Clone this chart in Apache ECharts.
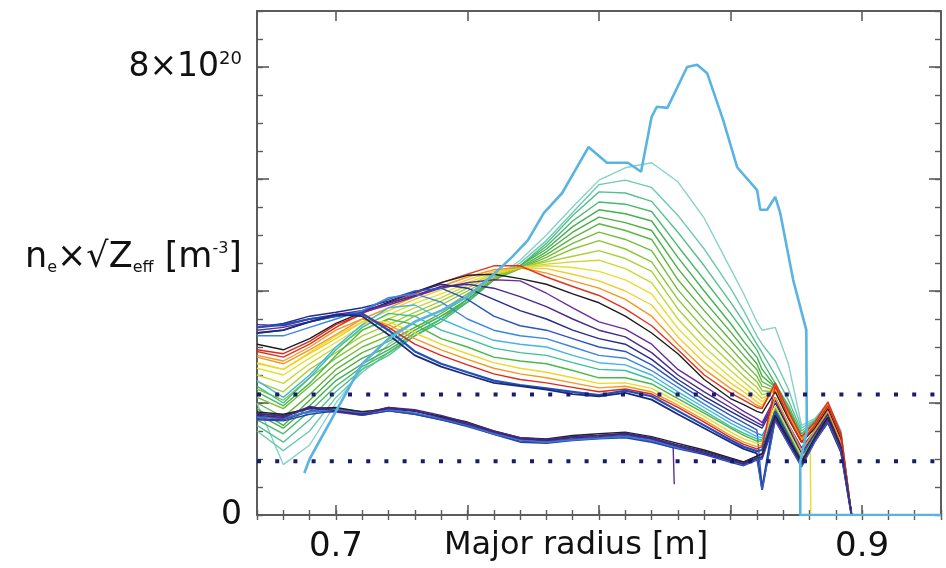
<!DOCTYPE html>
<html>
<head>
<meta charset="utf-8">
<script src="https://cdn.jsdelivr.net/npm/echarts@6/dist/echarts.min.js"></script>
<style>
  html, body { margin: 0; padding: 0; background: #ffffff; }
  #chart { width: 946px; height: 568px; }
</style>
</head>
<body>
<div id="chart"></div>
<script>
// Major radius sample positions [m]
const radius = [0.67,0.68,0.69,0.70,0.71,0.72,0.73,0.74,0.75,0.76,0.77,0.78,0.79,0.80,0.81,0.82,0.83,0.84,0.85,0.855,0.86,0.862,0.867,0.872,0.877,0.882,0.887,0.892,0.896];

// Profiles of n_e * sqrt(Z_eff), in units of 1e20 m^-3, sampled on `radius`.
// Late profiles with the hump moving outward (teal -> green -> yellow -> red -> black)
const late0  = [2.0,0.9,1.25,2.0,2.6,3.05,3.35,3.55,3.8,4.2,4.55,5.0,5.5,5.98,6.2,6.29,5.95,5.3,4.4,3.95,3.45,3.3,3.35,2.7,1.6,1.72,2.0,1.5,0];
const late1  = [1.5,1.15,1.5,2.1,2.55,2.9,3.25,3.5,3.8,4.2,4.5,4.9,5.4,5.9,5.98,5.85,5.35,4.75,4.05,3.65,3.2,3.05,2.75,2.25,1.55,1.7,2.0,1.48,0];
const late2  = [1.6,1.3,1.7,2.2,2.6,2.85,3.2,3.5,3.8,4.2,4.45,4.85,5.35,5.77,5.75,5.6,5.05,4.45,3.8,3.45,3.05,2.9,2.5,2.05,1.5,1.68,1.98,1.45,0];
const late3  = [1.7,1.45,1.85,2.3,2.65,2.9,3.2,3.45,3.8,4.2,4.45,4.8,5.25,5.59,5.55,5.42,4.8,4.2,3.6,3.28,2.95,2.75,2.35,1.95,1.45,1.66,1.96,1.44,0];
const late4  = [1.8,1.55,1.95,2.4,2.7,2.95,3.25,3.5,3.85,4.2,4.45,4.75,5.15,5.45,5.38,5.25,4.6,4.0,3.42,3.1,2.82,2.6,2.3,1.9,1.4,1.64,1.95,1.42,0];
const late5  = [1.9,1.6,2.05,2.5,2.8,3.0,3.3,3.55,3.85,4.2,4.42,4.7,5.05,5.32,5.22,5.08,4.4,3.82,3.27,2.98,2.7,2.48,2.28,1.85,1.38,1.62,1.94,1.4,0];
const late6  = [2.0,1.75,2.15,2.6,2.9,3.1,3.35,3.6,3.9,4.2,4.4,4.65,4.95,5.2,5.08,4.92,4.2,3.65,3.12,2.85,2.6,2.38,2.25,1.8,1.35,1.6,1.92,1.38,0];
const late7  = [2.1,1.9,2.3,2.7,3.0,3.2,3.45,3.65,3.95,4.22,4.4,4.6,4.85,5.05,4.92,4.72,4.02,3.48,2.98,2.72,2.48,2.3,2.22,1.78,1.33,1.58,1.9,1.36,0];
const late8  = [2.25,2.05,2.45,2.8,3.1,3.3,3.55,3.75,4.0,4.25,4.4,4.55,4.75,4.9,4.75,4.52,3.85,3.32,2.84,2.6,2.38,2.22,2.2,1.75,1.3,1.56,1.88,1.34,0];
const late9  = [2.38,2.2,2.6,2.9,3.2,3.4,3.62,3.82,4.05,4.28,4.42,4.52,4.62,4.72,4.58,4.35,3.68,3.16,2.71,2.48,2.28,2.15,2.2,1.74,1.3,1.55,1.88,1.34,0];
const late10 = [2.5,2.35,2.7,3.0,3.3,3.5,3.7,3.88,4.1,4.3,4.42,4.48,4.52,4.55,4.4,4.15,3.5,3.0,2.58,2.38,2.18,2.08,2.22,1.75,1.32,1.56,1.9,1.36,0];
const late11 = [2.62,2.5,2.8,3.08,3.38,3.58,3.78,3.95,4.15,4.32,4.42,4.45,4.42,4.35,4.2,3.95,3.33,2.86,2.46,2.28,2.1,2.02,2.26,1.78,1.3,1.58,1.92,1.38,0];
const late12 = [2.72,2.6,2.88,3.15,3.45,3.65,3.85,4.02,4.2,4.35,4.42,4.4,4.3,4.18,4.0,3.75,3.18,2.72,2.36,2.2,2.02,1.96,2.28,1.8,1.32,1.6,1.95,1.4,0];
const late13 = [2.82,2.7,2.95,3.22,3.5,3.7,3.9,4.08,4.25,4.38,4.42,4.32,4.18,4.05,3.85,3.55,3.05,2.6,2.26,2.12,1.96,1.92,2.3,1.82,1.35,1.62,1.98,1.42,0];
const late14 = [2.92,2.82,3.05,3.35,3.6,3.78,3.95,4.15,4.3,4.45,4.45,4.25,4.08,3.92,3.68,3.38,2.95,2.5,2.18,2.05,1.92,1.9,2.36,1.85,1.4,1.65,2.02,1.45,0];
const late15 = [3.05,2.95,3.15,3.42,3.62,3.8,3.98,4.15,4.28,4.3,4.22,4.12,3.95,3.79,3.55,3.25,2.88,2.42,2.08,1.97,1.85,1.82,2.2,1.72,1.3,1.55,1.9,1.35,0];

// Intermediate profiles, hump near 0.71-0.77 m
const mid0  = [3.3,3.35,3.45,3.55,3.62,3.75,3.9,4.05,4.15,4.2,4.18,3.96,3.7,3.45,3.32,3.05,2.6,2.3,2.0,1.85,1.72,1.65,2.1,1.62,1.2,1.5,1.85,1.3,0];
const mid1  = [3.4,3.38,3.5,3.58,3.65,3.78,3.92,4.08,4.12,4.05,3.9,3.72,3.5,3.3,3.18,2.9,2.5,2.2,1.92,1.78,1.65,1.6,2.05,1.58,1.15,1.48,1.82,1.28,0];
const mid2  = [3.35,3.42,3.55,3.62,3.7,3.82,3.98,4.12,4.05,3.85,3.65,3.5,3.3,3.15,3.05,2.78,2.42,2.12,1.85,1.72,1.6,1.55,2.0,1.55,1.1,1.45,1.8,1.25,0];
const mid3  = [3.25,3.3,3.45,3.55,3.65,3.85,4.0,4.05,3.85,3.55,3.38,3.3,3.15,3.0,2.92,2.68,2.35,2.05,1.78,1.65,1.52,0.5,1.9,1.5,1.05,1.42,1.75,1.22,0];
const mid4  = [3.2,3.2,3.35,3.5,3.65,3.88,3.95,3.8,3.5,3.3,3.2,3.15,3.0,2.85,2.8,2.58,2.28,1.98,1.7,1.58,1.46,1.42,1.85,1.45,1.02,1.4,1.72,1.2,0];
const mid5  = [2.4,2.1,2.5,3.0,3.4,3.7,3.75,3.5,3.3,3.12,3.05,3.0,2.85,2.72,2.68,2.5,2.2,1.92,1.64,1.52,1.4,1.38,1.8,1.42,1.0,1.38,1.7,1.18,0];
const mid6  = [2.3,2.0,2.45,2.95,3.35,3.6,3.55,3.3,3.15,2.98,2.9,2.85,2.72,2.6,2.58,2.42,2.14,1.86,1.58,1.46,1.36,1.34,1.82,1.4,0.98,1.38,1.7,1.18,0];
const mid7  = [2.2,1.95,2.35,2.85,3.3,3.5,3.4,3.15,3.0,2.82,2.75,2.7,2.58,2.45,2.45,2.34,2.08,1.82,1.55,1.42,1.32,1.32,1.9,1.45,1.0,1.4,1.72,1.2,0];
const mid8  = [2.7,2.6,2.9,3.2,3.45,3.45,3.25,3.05,2.88,2.72,2.62,2.55,2.45,2.35,2.36,2.26,2.02,1.76,1.48,1.36,1.28,1.28,1.95,1.5,1.05,null,null,null,null];
const mid9  = [2.85,2.75,3.0,3.3,3.5,3.4,3.15,2.95,2.78,2.62,2.52,2.45,2.36,2.27,2.3,2.2,1.96,1.7,1.42,1.3,1.22,1.25,2.1,1.62,1.15,1.5,1.85,1.3,0];
const mid10 = [2.95,2.88,3.1,3.4,3.58,3.35,3.05,2.85,2.68,2.52,2.42,2.36,2.28,2.2,2.25,2.16,1.92,1.66,1.38,1.26,1.18,1.22,2.3,1.75,1.3,1.6,1.95,1.4,0];
const mid11 = [3.35,3.4,3.5,3.55,3.6,3.3,2.92,2.7,2.55,2.4,2.32,2.26,2.2,2.14,2.22,2.12,1.86,1.6,1.34,1.22,1.14,1.16,1.85,1.4,0.95,1.35,1.68,1.15,0];
const mid12 = [3.25,3.3,3.45,3.58,3.55,3.22,2.85,2.65,2.5,2.36,2.3,2.24,2.16,2.12,2.18,2.06,1.8,1.55,1.3,1.18,1.1,0.45,1.75,1.35,0.92,1.32,1.65,1.12,0];

// Early, low profiles
const low0 = [1.8,1.78,1.92,1.9,1.82,1.92,1.86,1.75,1.64,1.48,1.36,1.34,1.4,1.42,1.45,1.37,1.25,1.14,1.0,0.94,1.05,1.08,1.75,1.32,0.92,1.36,1.72,1.2,0];
const low1 = [1.72,1.7,1.85,1.84,1.78,1.86,1.8,1.7,1.6,1.44,1.32,1.3,1.35,1.38,1.4,1.32,null,null,null,null,null,null,null,null,null,null,null,null,null];
const low2 = [1.76,1.72,1.86,1.9,1.85,1.88,1.82,1.72,1.6,1.46,1.36,1.32,1.36,1.38,1.42,1.35,1.2,1.1,0.96,0.9,1.0,0.45,1.7,1.28,0.88,1.32,1.68,1.16,0];
const low3 = [1.84,1.8,1.9,1.92,1.84,1.9,1.85,1.76,1.66,1.5,1.38,1.36,1.42,1.45,1.48,1.4,1.28,1.16,1.02,0.95,1.05,1.1,1.78,1.35,0.95,1.38,1.75,1.22,0];
const low4 = [1.7,1.68,1.8,1.86,1.78,1.86,1.8,1.7,1.58,1.44,1.3,1.28,1.33,1.36,1.38,1.3,1.18,1.08,0.94,0.88,0.98,1.0,1.68,1.26,0.86,1.3,1.66,1.14,0];
const low5 = [1.82,1.76,1.9,1.86,1.8,1.92,1.88,1.78,1.65,1.5,1.38,1.35,1.4,1.42,1.46,1.38,1.24,1.12,0.98,0.92,1.02,1.04,1.72,1.3,0.9,1.34,1.7,1.18,0];
const low6 = [1.74,1.74,1.84,1.88,1.82,1.88,1.82,1.72,1.6,1.45,1.34,1.3,1.34,1.37,1.4,1.33,1.2,1.1,0.96,0.9,1.0,1.02,1.7,1.28,0.88,1.32,1.68,1.16,0];
const low7 = [1.78,1.74,1.94,1.86,1.8,1.9,1.86,1.74,1.62,1.48,1.36,1.33,1.38,1.4,1.44,1.36,1.22,1.1,0.97,0.91,1.01,1.03,1.72,1.3,0.9,1.34,1.7,1.18,0];

// Ends of profiles that leave the common grid: [radius, value]
const mid8Tail = [[0.8803, 1.15], [0.8805, 0]];
const low1Tail = [[0.8282, 1.2], [0.8286, 0.55]];

// Peak profile, on its own radii
const peakRadius = [0.688,0.69,0.70,0.71,0.72,0.73,0.74,0.75,0.76,0.767,0.773,0.779,0.786,0.796,0.803,0.811,0.816,0.820,0.822,0.826,0.8335,0.8373,0.8411,0.8472,0.8525,0.8601,0.8613,0.8639,0.867,0.8689,0.8738,0.8788,0.879,0.8765,0.8765,0.93];
const peakValue  = [0.75,1.0,1.85,2.7,3.15,3.45,3.65,3.9,4.3,4.61,4.91,5.39,5.75,6.57,6.29,6.29,6.13,7.11,7.29,7.27,8.0,8.04,7.89,7.05,6.21,5.8,5.45,5.45,5.68,5.39,4.2,3.3,1.5,0.95,0,0];

// Dotted reference levels
const levels = [2.15, 0.96];

// Axis labels
const xLabels = { '0.7': '0.7', '0.9': '0.9' };
const yLabels = { '0': '0', '8': '8×10{sup|20}' };

const FONT = 'DejaVu Sans';
const INK = '#111111';
const FRAME = '#5c5c5c';

function pairs(values, tail) {
  const out = [];
  values.forEach((v, i) => { if (v !== null) out.push([radius[i], v]); });
  return tail ? out.concat(tail) : out;
}

function profile(values, color, width, tail) {
  return {
    type: 'line',
    data: pairs(values, tail),
    showSymbol: false,
    symbol: 'none',
    silent: true,
    lineStyle: { color: color, width: width || 1.4 },
    emphasis: { disabled: true }
  };
}

const series = [
  profile(late0,  '#86d2c8'),
  profile(late1,  '#6dcab0'),
  profile(late2,  '#55c08e'),
  profile(late3,  '#48b96c'),
  profile(late4,  '#43b252'),
  profile(late5,  '#4caf45'),
  profile(late6,  '#5db640'),
  profile(late7,  '#72bd3d'),
  profile(late8,  '#8ec53b'),
  profile(late9,  '#aacf38'),
  profile(late10, '#c8d934'),
  profile(late11, '#e6df33'),
  profile(late12, '#f4cc2b'),
  profile(late13, '#f29624'),
  profile(late14, '#e2331e'),
  profile(late15, '#1e1e1e'),
  profile(mid0,  '#6a2c9c'),
  profile(mid1,  '#4a2890'),
  profile(mid2,  '#262a8c'),
  profile(mid3,  '#2b55c0'),
  profile(mid4,  '#3a86dc'),
  profile(mid5,  '#45b6e2'),
  profile(mid6,  '#3cbf9a'),
  profile(mid7,  '#4ab848'),
  profile(mid8,  '#ecd92c', 1.4, mid8Tail),
  profile(mid9,  '#f29a22'),
  profile(mid10, '#e2261c'),
  profile(mid11, '#2050b8', 2.2),
  profile(mid12, '#1c2a7a', 1.8),
  profile(low0, '#27298a'),
  profile(low1, '#5b2d96', 1.4, low1Tail),
  profile(low2, '#2f62c8'),
  profile(low3, '#222222'),
  profile(low4, '#1f47b0'),
  profile(low5, '#3b2a8e'),
  profile(low6, '#3a78d0'),
  profile(low7, '#4a2478'),
  {
    type: 'line',
    data: peakRadius.map((r, i) => [r, peakValue[i]]),
    showSymbol: false,
    symbol: 'none',
    silent: true,
    lineStyle: { color: '#5ab4e2', width: 2.6 },
    emphasis: { disabled: true }
  }
];

levels.forEach(level => {
  series.push({
    type: 'line',
    data: [[0.67, level], [0.93, level]],
    showSymbol: false,
    symbol: 'none',
    silent: true,
    z: 5,
    lineStyle: { color: '#1b1b6e', width: 4, type: [4, 14.2], cap: 'butt' },
    emphasis: { disabled: true }
  });
});

function frameX(position, withLabels) {
  return [
    {
      type: 'value', min: 0.67, max: 0.93, splitNumber: 5, position: position,
      axisLine: { show: true, onZero: false, lineStyle: { color: FRAME, width: 2 } },
      axisTick: { show: true, inside: true, length: 10, lineStyle: { color: FRAME, width: 1.6 } },
      axisLabel: {
        show: withLabels, margin: 15, color: INK, fontSize: 34, fontFamily: FONT,
        formatter: v => xLabels[(Math.round(v * 100) / 100).toString()] || ''
      },
      splitLine: { show: false },
      name: withLabels ? 'Major radius [m]' : '',
      nameLocation: 'middle', nameGap: 15, nameMoveOverlap: false,
      nameTextStyle: { color: INK, fontSize: 32, fontFamily: FONT, verticalAlign: 'top', padding: [0, 46, 0, 0] }
    },
    {
      type: 'value', min: 0.67, max: 0.93, interval: 0.01, position: position,
      axisLine: { show: false },
      axisTick: { show: true, inside: true, length: 5, lineStyle: { color: FRAME, width: 1.4 } },
      axisLabel: { show: false },
      splitLine: { show: false }
    }
  ];
}

function frameY(position, withLabels) {
  return [
    {
      type: 'value', min: 0, max: 9, interval: 2, position: position,
      axisLine: { show: true, onZero: false, lineStyle: { color: FRAME, width: 2 } },
      axisTick: { show: true, inside: true, length: 12, lineStyle: { color: FRAME, width: 1.6 } },
      axisLabel: {
        show: withLabels, margin: 15, color: INK, fontSize: 33, fontFamily: FONT,
        formatter: v => yLabels[String(v)] || '',
        rich: { sup: { fontSize: 18, fontFamily: FONT, color: INK, verticalAlign: 'top', padding: [0, 0, 10, 0] } }
      },
      splitLine: { show: false },
      name: withLabels ? 'n{sub|e}×√Z{sub|eff} [m{sup|-3}]' : '',
      nameLocation: 'middle', nameRotate: 0, nameGap: 15, nameMoveOverlap: false,
      nameTextStyle: {
        color: INK, fontSize: 35, fontFamily: FONT, align: 'right', verticalAlign: 'middle',
        padding: [0, 0, 10, 0],
        rich: {
          sub: { fontSize: 16, fontFamily: FONT, color: INK, verticalAlign: 'bottom' },
          sup: { fontSize: 16, fontFamily: FONT, color: INK, verticalAlign: 'top' }
        }
      }
    },
    {
      type: 'value', min: 0, max: 9, interval: 0.5, position: position,
      axisLine: { show: false },
      axisTick: { show: true, inside: true, length: 6, lineStyle: { color: FRAME, width: 1.4 } },
      axisLabel: { show: false },
      splitLine: { show: false }
    }
  ];
}

const chart = echarts.init(document.getElementById('chart'), null, { renderer: 'canvas' });
chart.setOption({
  animation: false,
  backgroundColor: '#ffffff',
  grid: { left: 257, right: 5, top: 11, bottom: 53, containLabel: false, outerBoundsMode: 'none' },
  xAxis: frameX('bottom', true).concat(frameX('top', false)),
  yAxis: frameY('left', true).concat(frameY('right', false)),
  series: series
});
</script>
</body>
</html>
